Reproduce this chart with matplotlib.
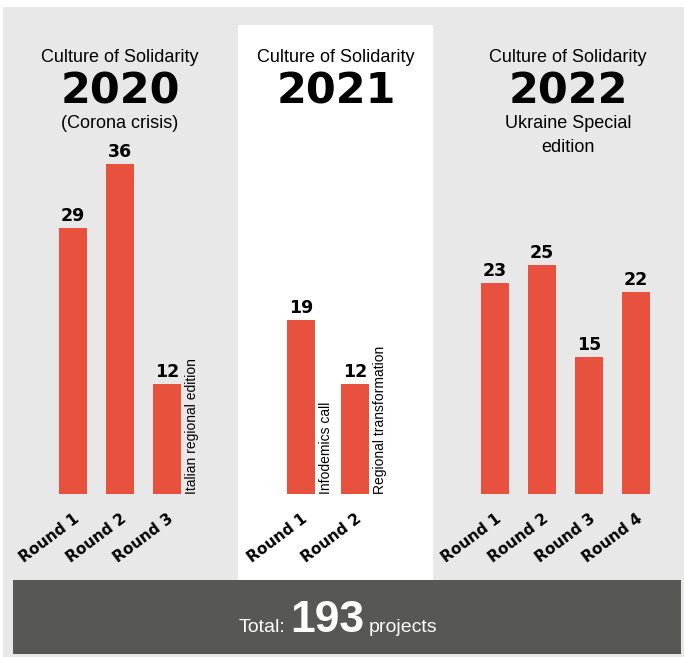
import matplotlib
matplotlib.use("Agg")
import matplotlib.pyplot as plt
from matplotlib.patches import Rectangle

# ---- data ----
years = ["2020", "2021", "2022"]
subtitles = [["(Corona crisis)"], [], ["Ukraine Special", "edition"]]
rounds_2020 = ["Round 1", "Round 2", "Round 3"]
rounds_2021 = ["Round 1", "Round 2"]
rounds_2022 = ["Round 1", "Round 2", "Round 3", "Round 4"]
counts_2020 = [29, 36, 12]
counts_2021 = [19, 12]
counts_2022 = [23, 25, 15, 22]
notes_2020 = ["", "", "Italian regional edition"]
notes_2021 = ["Infodemics call", "Regional transformation"]
notes_2022 = ["", "", "", ""]

groups = [
    (rounds_2020, counts_2020, notes_2020),
    (rounds_2021, counts_2021, notes_2021),
    (rounds_2022, counts_2022, notes_2022),
]
total = sum(counts_2020) + sum(counts_2021) + sum(counts_2022)

# ---- layout (pixels) ----
W, H = 684, 657
RED = "#E9513F"
LIGHT = "#E8E8E8"
DARK = "#575756"
first_bar = [73, 301, 495]
bar_step = [47, 54, 47]
bar_w = 28
title_x = [120, 336, 568]
baseline_px = 494
px_per_unit = 330 / 36

fig = plt.figure(figsize=(W / 100, H / 100), dpi=100)
fig.patch.set_facecolor("white")

# background layer in pixel coordinates
bg = fig.add_axes([0, 0, 1, 1], zorder=0)
bg.set_xlim(0, W)
bg.set_ylim(H, 0)
bg.axis("off")
bg.add_patch(Rectangle((3, 7), W - 3, H - 7, color=LIGHT, lw=0))
bg.add_patch(Rectangle((238, 25), 195, 555, color="white", lw=0))
bg.add_patch(Rectangle((13, 580), 668, 74, color=DARK, lw=0))

for i, yr in enumerate(years):
    bg.text(title_x[i], 62, "Culture of Solidarity", family="Liberation Sans",
            fontsize=13, ha="center", va="baseline")
    bg.text(title_x[i], 103, yr, family="DejaVu Sans", fontweight="bold",
            fontsize=31, ha="center", va="baseline")
    for j, line in enumerate(subtitles[i]):
        bg.text(title_x[i], 128 + 24 * j, line, family="Liberation Sans",
                fontsize=13, ha="center", va="baseline")

# total line
bg.text(285, 632, "Total:", family="Liberation Sans", fontsize=14,
        color="white", ha="right", va="baseline")
bg.text(327, 632, str(total), family="Liberation Sans", fontweight="bold",
        fontsize=32, color="white", ha="center", va="baseline")
bg.text(369, 632, "projects", family="Liberation Sans", fontsize=14,
        color="white", ha="left", va="baseline")

# bar layer: x in pixels, y in project counts
ymax = 36
ax = fig.add_axes([0, 1 - baseline_px / H, 1, ymax * px_per_unit / H], zorder=1)
ax.set_xlim(0, W)
ax.set_ylim(0, ymax)
ax.patch.set_alpha(0)
for s in ax.spines.values():
    s.set_visible(False)
ax.tick_params(axis="both", length=0)
ax.set_yticks([])

all_x, all_labels = [], []
for g, (labels, counts, notes) in enumerate(groups):
    xs = [first_bar[g] + k * bar_step[g] for k in range(len(counts))]
    ax.bar(xs, counts, width=bar_w, color=RED)
    for x, v, note in zip(xs, counts, notes):
        ax.annotate(str(v), (x, v), xytext=(0, 5), textcoords="offset points",
                    ha="center", va="baseline", family="DejaVu Sans",
                    fontweight="bold", fontsize=12.5)
        if note:
            ax.text(x + bar_w / 2 + 4, 0, note, rotation=90, ha="left",
                    va="bottom", family="Liberation Sans", fontsize=10)
    all_x += xs
    all_labels += labels

ax.set_xticks(all_x)
ax.set_xticklabels(all_labels, rotation=37, ha="right", rotation_mode="anchor",
                   family="DejaVu Sans", fontweight="bold", fontsize=11)
ax.tick_params(axis="x", pad=12)

fig.savefig("out.png", dpi=100, facecolor=fig.get_facecolor())
